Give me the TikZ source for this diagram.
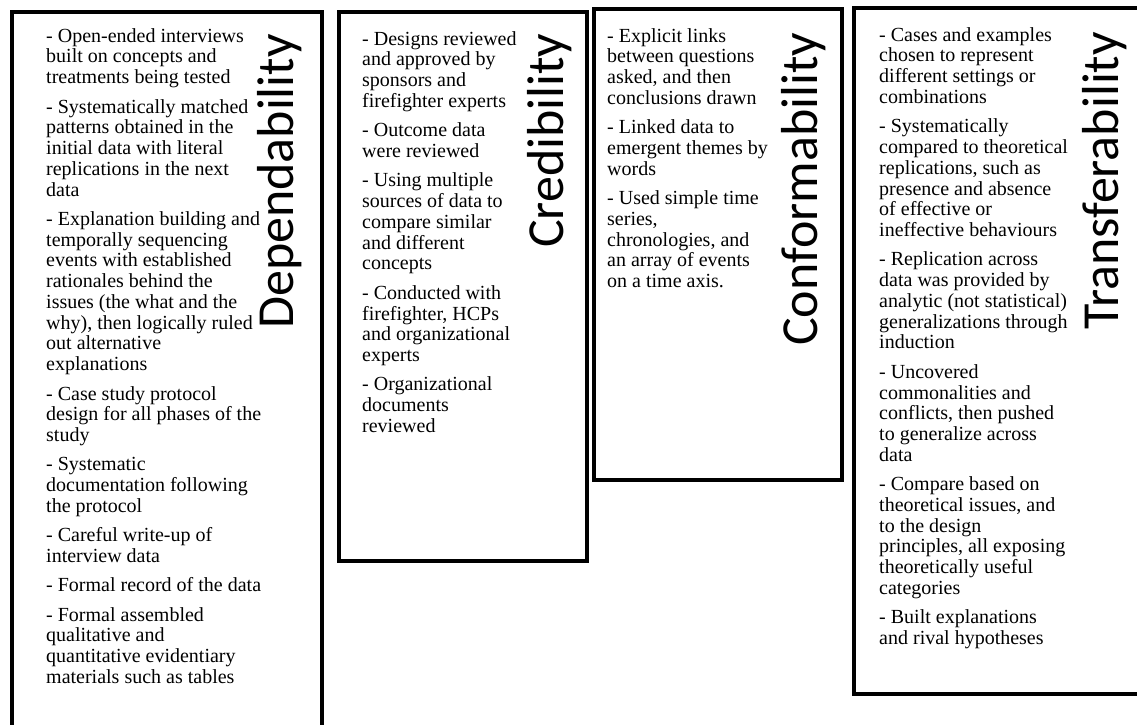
\documentclass[tikz,border=0pt]{standalone}
\usepackage{fontspec}
\setmainfont{Liberation Serif}
\newfontfamily\titlefont{Carlito}
\tikzset{
  panel/.style={draw, line width=3.5pt, inner sep=0pt, anchor=north west},
  body/.style={anchor=north west, inner sep=0pt, align=left, font=\fontsize{20}{20.75}\selectfont},
  title/.style={rotate=90, anchor=base west, inner sep=0pt, font=\titlefont\fontsize{52}{60}\selectfont},
}
\newcommand{\pgap}{\\[8.6pt]}
\begin{document}
\begin{tikzpicture}[x=1pt,y=-1pt]
\clip (0,0) rectangle (1137,724);
\fill[white] (0,0) rectangle (1137,724);
% frames
\node[panel, minimum width=310pt, minimum height=760pt] (b1) at (10,10) {};
\node[panel, minimum width=248pt, minimum height=549pt] (b2) at (337,10) {};
\node[panel, minimum width=248pt, minimum height=471pt] (b3) at (592,7) {};
\node[panel, minimum width=320pt, minimum height=686pt] (b4) at (852,6) {};
% titles
\node[title] (t1) at (293,329) {Dependability};
\node[title] (t2) at (563,248) {Credibility};
\node[title] (t3) at (817,346) {Conformability};
\node[title] (t4) at (1118,330) {Transferability};
% texts
\node[body] (x1) at (46,27.5) {\strut - Open-ended interviews\\ built on concepts and\\ treatments being tested\pgap
- Systematically matched\\ patterns obtained in the\\ initial data with literal\\ replications in the next\\ data\pgap
- Explanation building and\\ temporally sequencing\\ events with established\\ rationales behind the\\ issues (the what and the\\ why), then logically ruled\\ out alternative\\ explanations\pgap
- Case study protocol\\ design for all phases of the\\ study\pgap
- Systematic\\ documentation following\\ the protocol\pgap
- Careful write-up of\\ interview data\pgap
- Formal record of the data\pgap
- Formal assembled\\ qualitative and\\ quantitative evidentiary\\ materials such as tables};
\node[body] (x2) at (362,30.5) {\strut - Designs reviewed\\ and approved by\\ sponsors and\\ firefighter experts\pgap
- Outcome data\\ were reviewed\pgap
- Using multiple\\ sources of data to\\ compare similar\\ and different\\ concepts\pgap
- Conducted with\\ firefighter, HCPs\\ and organizational\\ experts\pgap
- Organizational\\ documents\\ reviewed};
\node[body] (x3) at (607,27.5) {\strut - Explicit links\\ between questions\\ asked, and then\\ conclusions drawn\pgap
- Linked data to\\ emergent themes by\\ words\pgap
- Used simple time\\ series,\\ chronologies, and\\ an array of events\\ on a time axis.};
\node[body] (x4) at (879,26.5) {\strut - Cases and examples\\ chosen to represent\\ different settings or\\ combinations\pgap
- Systematically\\ compared to theoretical\\ replications, such as\\ presence and absence\\ of effective or\\ ineffective behaviours\pgap
- Replication across\\ data was provided by\\ analytic (not statistical)\\ generalizations through\\ induction\pgap
- Uncovered\\ commonalities and\\ conflicts, then pushed\\ to generalize across\\ data\pgap
- Compare based on\\ theoretical issues, and\\ to the design\\ principles, all exposing\\ theoretically useful\\ categories\pgap
- Built explanations\\ and rival hypotheses};
\end{tikzpicture}
\end{document}
